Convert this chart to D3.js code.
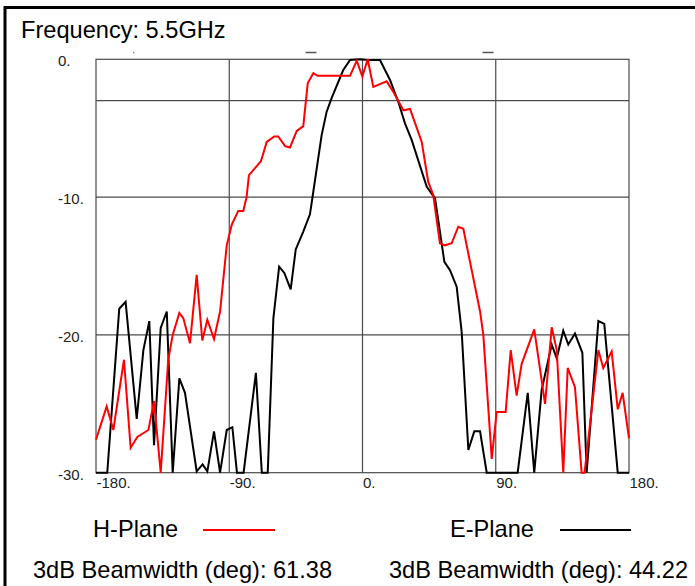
<!DOCTYPE html>
<html>
<head>
<meta charset="utf-8">
<script src="https://cdn.jsdelivr.net/npm/d3@7/dist/d3.min.js"></script>
<style>
  html, body { margin: 0; padding: 0; background: #fff; }
  svg { display: block; }
  text { font-family: Arial, "Liberation Sans", sans-serif; }
</style>
</head>
<body>
<svg id="chart" width="695" height="586"></svg>
<script>
// ---------------- data ----------------
const titleText = "Frequency: 5.5GHz";
const xTicks = [-180, -90, 0, 90, 180];
const yTicks = [0, -10, -20, -30];
const xGrid = [-90, 0, 90];
const yGrid = [-3, -10, -20];
const topMarks = [-154.5, -34.8, 84.8];

// H-Plane (red): angle in degrees, gain in dB
const hAngles = [-180,-172.8,-168.3,-161.1,-156.6,-152.1,-144.6,-140.8,-136.3,-131.2,-128.2,-123.7,-121,-116.5,-112,-108.2,-104.8,-100.3,-96.2,-91.7,-88.3,-83.9,-80.5,-78.3,-76.7,-72.6,-68.6,-64.7,-59.6,-56.9,-52.3,-49,-44.4,-40,-37,-33.2,-30.3,-8.4,-3.9,-0.1,3.5,7.3,11.8,16.3,20.8,27.6,32.1,40,44.4,47.8,52.3,55.7,60.2,64.7,68.1,79.4,81.6,87.3,90.6,96.7,100.1,104.1,107.5,116,123.3,127.8,131.2,135.6,138.6,143.5,148,150,159.3,162.6,168.3,172.4,175.7,180];
const hValues = [-27.6,-25.2,-26.9,-21.8,-28.2,-27.4,-26.9,-24.8,-30,-21.8,-20,-18.4,-18.8,-20.6,-15.65,-20.4,-18.9,-20.3,-18.3,-13.5,-12.0,-11.0,-11.0,-10.0,-8.4,-7.9,-7.4,-6.0,-5.6,-5.6,-6.3,-6.4,-5.2,-4.85,-1.74,-1.0,-1.2,-1.2,-0.1,-1.26,0,-2.0,-1.8,-1.6,-2.35,-3.7,-3.6,-6.0,-8.9,-9.85,-13.35,-13.5,-13.35,-12.15,-12.3,-18.3,-20,-29,-25.6,-25.6,-21.1,-24.4,-22.1,-19.6,-25,-19.45,-21.1,-30,-22.4,-23.8,-30,-30,-21.1,-22.4,-21.2,-25.4,-24.2,-27.5];

// E-Plane (black)
const eAngles = [-180,-172.4,-164.3,-160,-152.5,-148,-144,-140.8,-136.3,-132.2,-128.2,-123.7,-119.9,-112,-108,-104.8,-100.3,-96.2,-91.7,-87.9,-84.8,-80.3,-72,-68,-64,-60.2,-56.3,-52.8,-48.5,-45.1,-40,-35.5,-33.9,-27.6,-24.2,-20.8,-13,-8.4,-1.7,3.5,8.5,11.8,18.6,24.2,28.7,33.2,43.4,49,55.3,59.1,63.6,67,71.5,75.5,79.4,83.9,104.8,111.6,116,121,127.8,131.2,135.6,139,143.5,148.5,151.4,159.3,163.3,172.4,180];
const eValues = [-30,-30,-18.1,-17.6,-26.1,-21.1,-19.0,-28.0,-19.5,-18.3,-30,-23.15,-24.2,-29.9,-29.4,-29.9,-27.0,-30,-26.9,-26.7,-30,-30,-22.75,-30,-30,-18.8,-15.05,-15.5,-16.7,-13.8,-12.5,-11.25,-10.1,-5.5,-3.8,-2.8,-0.78,-0.05,0,-0.05,-0.05,-0.05,-1.5,-3.1,-4.65,-5.85,-9.25,-10.1,-14.7,-15.3,-16.5,-19.8,-28.35,-27.0,-27.0,-30,-30,-24.2,-30,-24.0,-20.7,-21.7,-19.7,-20.7,-19.9,-21.3,-30,-19.0,-19.2,-30,-30];

const seriesNames = ["H-Plane", "E-Plane"];
const seriesColors = ["#ff0000", "#000000"];
const beamwidths = ["61.38", "44.22"];

// ---------------- drawing ----------------
const svg = d3.select("#chart");
const plot = { left: 96, right: 629, top: 59.3, bottom: 472.7 };

const x = d3.scaleLinear().domain([-180, 180]).range([plot.left, plot.right]);
const y = d3.scaleLinear().domain([0, -30]).range([plot.top, plot.bottom]);

// outer frame (only top/left visible)
svg.append("rect")
  .attr("x", 5).attr("y", 7.5).attr("width", 900).attr("height", 900)
  .attr("fill", "none").attr("stroke", "#000").attr("stroke-width", 3);

// title
svg.append("text").attr("x", 21).attr("y", 38)
  .attr("font-size", 23.6).attr("fill", "#000").text(titleText);

// small marks above the plot
svg.append("g").selectAll("line").data(topMarks).join("line")
  .attr("x1", (d, i) => x(d) - (i === 0 ? 0.5 : 5.5))
  .attr("x2", (d, i) => x(d) + (i === 0 ? 0.5 : 5.5))
  .attr("y1", 52.5).attr("y2", 52.5)
  .attr("stroke", "#555").attr("stroke-width", 1.5);

// grid
const g = svg.append("g");
g.selectAll("line.vx").data(xGrid).join("line").attr("class", "vx")
  .attr("x1", d => x(d)).attr("x2", d => x(d))
  .attr("y1", plot.top).attr("y2", plot.bottom)
  .attr("stroke", "#4a4a4a").attr("stroke-width", 1.2);
g.selectAll("line.hy").data(yGrid).join("line").attr("class", "hy")
  .attr("x1", plot.left).attr("x2", plot.right)
  .attr("y1", d => y(d)).attr("y2", d => y(d))
  .attr("stroke", "#4a4a4a").attr("stroke-width", 1.2);
g.append("rect")
  .attr("x", plot.left).attr("y", plot.top)
  .attr("width", plot.right - plot.left).attr("height", plot.bottom - plot.top)
  .attr("fill", "none").attr("stroke", "#4a4a4a").attr("stroke-width", 1.2);

// tick labels
svg.append("g").selectAll("text").data(yTicks).join("text")
  .attr("x", 58).attr("y", d => y(d) + 7)
  .attr("font-size", 15).attr("fill", "#222")
  .text(d => d + ".");
svg.append("g").selectAll("text").data(xTicks).join("text")
  .attr("x", d => x(d) + 0.5).attr("y", 488)
  .attr("font-size", 15).attr("fill", "#222")
  .text(d => d + ".");

// curves
const line = d3.line().x(d => x(d[0])).y(d => y(d[1]));
const hData = hAngles.map((a, i) => [a, hValues[i]]);
const eData = eAngles.map((a, i) => [a, eValues[i]]);

svg.append("path").datum(eData).attr("d", line)
  .attr("fill", "none").attr("stroke", seriesColors[1]).attr("stroke-width", 2);
svg.append("path").datum(hData).attr("d", line)
  .attr("fill", "none").attr("stroke", seriesColors[0]).attr("stroke-width", 2);

// legend
const legendX = [93, 450];
const legendLineX = [[203, 275], [560, 631]];
seriesNames.forEach((name, i) => {
  svg.append("text").attr("x", legendX[i]).attr("y", 537)
    .attr("font-size", 23.6).attr("fill", "#000").text(name);
  svg.append("line")
    .attr("x1", legendLineX[i][0]).attr("x2", legendLineX[i][1])
    .attr("y1", 530).attr("y2", 530)
    .attr("stroke", seriesColors[i]).attr("stroke-width", 2.2);
});
const bwX = [33, 389];
beamwidths.forEach((bw, i) => {
  svg.append("text").attr("x", bwX[i]).attr("y", 578)
    .attr("font-size", 23.6).attr("fill", "#000")
    .text("3dB Beamwidth (deg): " + bw);
});
</script>
</body>
</html>
